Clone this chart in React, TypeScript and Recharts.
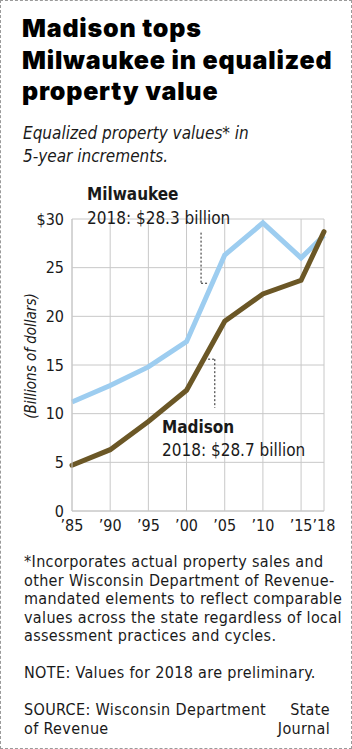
import { LineChart, Line, XAxis, YAxis, CartesianGrid, ReferenceLine } from "recharts";

const years = [1985, 1990, 1995, 2000, 2005, 2010, 2015, 2018];
const milwaukee = [11.2, 12.9, 14.8, 17.4, 26.3, 29.6, 26.0, 28.3];
const madison = [4.7, 6.3, 9.2, 12.4, 19.5, 22.3, 23.7, 28.7];
const yTicks = [0, 5, 10, 15, 20, 25, 30];
const xTicks = [1985, 1990, 1995, 2000, 2005, 2010, 2015, 2018];

const data = years.map((year, i) => ({ year, milwaukee: milwaukee[i], madison: madison[i] }));

const COND = '"DejaVu Sans Condensed", "DejaVu Sans", sans-serif';
const INK = "#1a1a1a";
const BLUE = "#9dcdf0";
const BROWN = "#6b5726";

const footnote = [
  "*Incorporates actual property sales and",
  "other Wisconsin Department of Revenue-",
  "mandated elements to reflect comparable",
  "values across the state regardless of local",
  "assessment practices and cycles.",
];

export default function App() {
  return (
    <div
      style={{
        position: "absolute",
        left: 0,
        top: 0,
        width: 352,
        height: 749,
        background: "#fff",
        border: "1px dashed #9a9a9a",
        boxSizing: "border-box",
        overflow: "hidden",
        fontFamily: COND,
        color: INK,
      }}
    >
      <div
        style={{
          position: "absolute",
          left: 21,
          top: 12,
          fontFamily: "Inter, Roboto, sans-serif",
          fontWeight: 900,
          fontSize: 25,
          lineHeight: "31.5px",
          letterSpacing: 0.8,
          color: "#000",
          whiteSpace: "nowrap",
        }}
      >
        Madison tops
        <br />
        Milwaukee in equalized
        <br />
        property value
      </div>

      <div style={{ position: "absolute", left: 22, top: 121, fontSize: 17, lineHeight: "23px", fontStyle: "italic" }}>
        Equalized property values* in
        <br />
        5-year increments.
      </div>

      <div style={{ position: "absolute", left: 0, top: -1 }}>
        <LineChart width={352} height={560} data={data} margin={{ top: 219, right: 29, bottom: 19, left: 0 }}>
          <CartesianGrid stroke="#c8c8c8" strokeWidth={1} />
          <XAxis
            dataKey="year"
            type="number"
            domain={[1985, 2018]}
            ticks={xTicks}
            interval={0}
            tickFormatter={(v: number) => "\u2019" + String(v).slice(2)}
            tickLine={false}
            tickSize={0}
            tickMargin={9}
            axisLine={{ stroke: "#c8c8c8" }}
            height={30}
            tick={{ fontSize: 16, fill: INK, fontFamily: COND }}
          />
          <YAxis
            type="number"
            domain={[0, 30]}
            ticks={yTicks}
            interval={0}
            tickFormatter={(v: number) => (v === 30 ? "$30" : String(v))}
            tickLine={false}
            tickSize={0}
            tickMargin={8}
            axisLine={{ stroke: "#c8c8c8" }}
            width={71}
            tick={{ fontSize: 16, fill: INK, fontFamily: COND }}
          />
          {/* leader for the Milwaukee label */}
          <ReferenceLine
            segment={[{ x: 2001.9, y: 28.6 }, { x: 2001.9, y: 23.4 }]}
            stroke="#222"
            strokeDasharray="2 2"
          />
          <ReferenceLine
            segment={[{ x: 2001.9, y: 23.4 }, { x: 2002.9, y: 23.4 }]}
            stroke="#222"
            strokeDasharray="2 2"
          />
          {/* leader for the Madison label */}
          <ReferenceLine
            segment={[{ x: 2002.3, y: 15.6 }, { x: 2003.7, y: 15.6 }]}
            stroke="#222"
            strokeDasharray="2 2"
          />
          <ReferenceLine
            segment={[{ x: 2003.7, y: 15.6 }, { x: 2003.7, y: 10.6 }]}
            stroke="#222"
            strokeDasharray="2 2"
          />
          <Line
            dataKey="milwaukee"
            stroke={BLUE}
            strokeWidth={5}
            dot={false}
            strokeLinejoin="miter"
            isAnimationActive={false}
          />
          <Line
            dataKey="madison"
            stroke={BROWN}
            strokeWidth={5}
            dot={false}
            strokeLinecap="round"
            strokeLinejoin="miter"
            isAnimationActive={false}
          />
        </LineChart>
      </div>

      <div
        style={{
          position: "absolute",
          left: 30,
          top: 355,
          transform: "translate(-50%, -50%) rotate(-90deg)",
          whiteSpace: "nowrap",
          fontSize: 15,
          fontStyle: "italic",
        }}
      >
        (Billions of dollars)
      </div>

      <div style={{ position: "absolute", left: 86, top: 181, fontSize: 17, lineHeight: "24px" }}>
        <b>Milwaukee</b>
        <br />
        2018: $28.3 billion
      </div>
      <div style={{ position: "absolute", left: 161, top: 415, fontSize: 17, lineHeight: "23px" }}>
        <b>Madison</b>
        <br />
        2018: $28.7 billion
      </div>

      <div
        style={{
          position: "absolute",
          left: 23,
          top: 552,
          fontSize: 16,
          lineHeight: "18.5px",
          letterSpacing: 0.35,
          whiteSpace: "nowrap",
        }}
      >
        {footnote.map((l) => (
          <div key={l}>{l}</div>
        ))}
        <div style={{ height: 18.5 }} />
        <div>NOTE: Values for 2018 are preliminary.</div>
        <div style={{ height: 18.5 }} />
        <div>SOURCE: Wisconsin Department</div>
        <div>of Revenue</div>
      </div>
      <div
        style={{
          position: "absolute",
          right: 21,
          top: 700,
          fontSize: 16,
          lineHeight: "18.5px",
          letterSpacing: 0.35,
          textAlign: "right",
        }}
      >
        State
        <br />
        Journal
      </div>
    </div>
  );
}
